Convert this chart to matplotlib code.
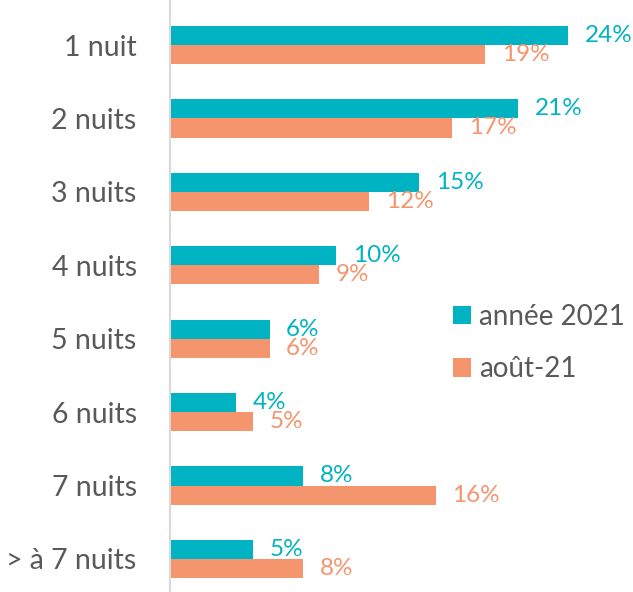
import matplotlib.pyplot as plt
import numpy as np

categories = ["1 nuit", "2 nuits", "3 nuits", "4 nuits", "5 nuits", "6 nuits", "7 nuits", "> à 7 nuits"]
annee_2021 = [24, 21, 15, 10, 6, 4, 8, 5]
aout_21 = [19, 17, 12, 9, 6, 5, 16, 8]
series_names = ["année 2021", "août-21"]

teal = "#00B3C2"
orange = "#F4956E"
grey = "#595959"

plt.rcParams["font.family"] = ["Lato", "DejaVu Sans"]

fig = plt.figure(figsize=(6.33, 5.92), dpi=100)
ax = fig.add_axes([170 / 633, 0, 463 / 633, 1])

y = np.arange(len(categories))
h = 0.26
b1 = ax.barh(y - h / 2, annee_2021, height=h, color=teal, label=series_names[0])
b2 = ax.barh(y + h / 2, aout_21, height=h, color=orange, label=series_names[1])

for bars, vals, col in [(b1, annee_2021, teal), (b2, aout_21, orange)]:
    for bar, v in zip(bars, vals):
        ax.annotate(f"{v}%", (bar.get_width(), bar.get_y() + bar.get_height() / 2),
                    xytext=(12, 0), textcoords="offset points", va="center", ha="left",
                    color=col, fontsize=17.5)

ax.set_xlim(0, 27.9)
ax.set_ylim(7.45, -0.613)
ax.set_yticks(y)
ax.set_yticklabels(categories, fontsize=20.5, color=grey)
ax.tick_params(axis="y", length=0, pad=24)
ax.set_xticks([])
for s in ["top", "right", "bottom"]:
    ax.spines[s].set_visible(False)
ax.spines["left"].set_color("#D9D9D9")
ax.spines["left"].set_linewidth(1.5)

leg = fig.legend(loc="center left", bbox_to_anchor=(428 / 633, 1 - 343 / 592), frameon=False,
                 fontsize=20, handlelength=0.64, handleheight=0.64, handletextpad=0.3,
                 labelspacing=0.95, labelcolor=grey)

fig.savefig("out.png", dpi=100)
